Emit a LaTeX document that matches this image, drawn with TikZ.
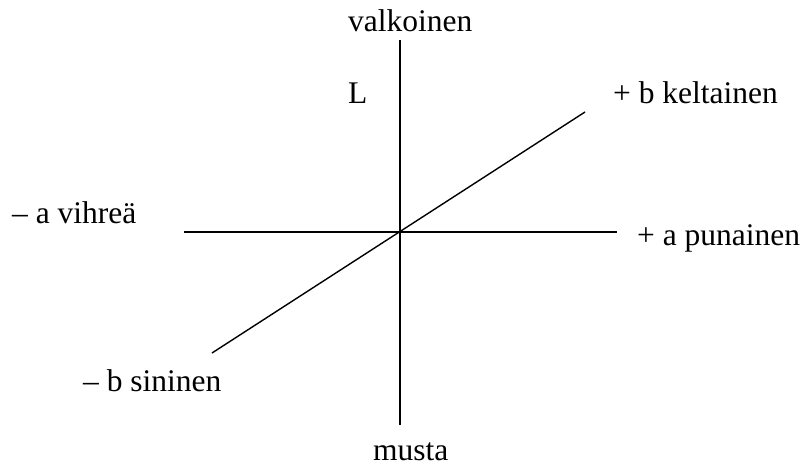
\documentclass[tikz,border=0pt]{standalone}
\usepackage{fontspec}
\setmainfont{Liberation Serif}
\begin{document}
\begin{tikzpicture}[x=1pt,y=-1pt,
  lbl/.style={anchor=base west,inner sep=0pt,font=\fontsize{31.5}{36}\selectfont},
  axis/.style={line width=1.4pt,black}]
\useasboundingbox[fill=white] (0,0) rectangle (803,466);
\coordinate (vtop) at (400,40);
\coordinate (vbot) at (400,425);
\coordinate (hl) at (184,232);
\coordinate (hr) at (617,232);
\coordinate (dl) at (212,353);
\coordinate (dr) at (585,112);
\draw[axis] (vtop) -- (vbot);
\draw[axis] (hl) -- (hr);
\draw[axis] (dl) -- (dr);
\node[lbl] (valk) at (348,31) {valkoinen};
\node[lbl] (L) at (348,103) {L};
\node[lbl] (kelt) at (613,103) {+ b keltainen};
\node[lbl] (vihr) at (12,223) {– a vihreä};
\node[lbl] (puna) at (637,245) {+ a punainen};
\node[lbl] (sini) at (83,391) {– b sininen};
\node[lbl] (musta) at (373,460) {musta};
\end{tikzpicture}
\end{document}
